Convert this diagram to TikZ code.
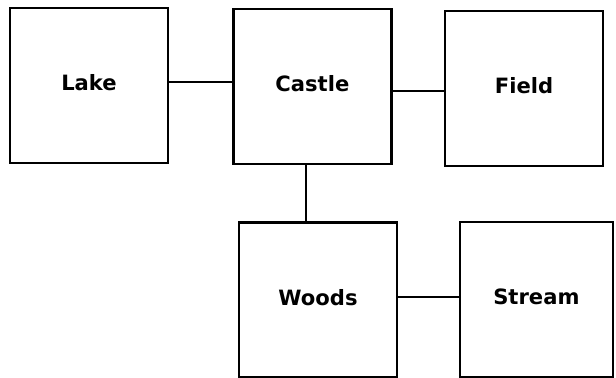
\documentclass[tikz,border=0pt]{standalone}
\usepackage{fontspec}
\setmainfont{DejaVu Sans}
\usepackage{tikz}

\begin{document}
\begin{tikzpicture}[every node/.style={font=\fontsize{15}{18}\selectfont\bfseries}, place/.style={draw, line width=1.6pt, minimum width=3.95cm, minimum height=3.87cm, text depth=4pt}, link/.style={line width=1.6pt}]
	\useasboundingbox (0,0) rectangle (15.4,9.45);
	\node[place] (lake) at (2.225,7.306) {Lake};
	\node[place] (castle) at (7.81,7.29) {Castle};
	\node[place] (field) at (13.1,7.24) {Field};
	\node[place] (woods) at (7.95,1.95) {Woods};
	\node[place, minimum width=3.82cm] (stream) at (13.41,1.96) {Stream};
	\draw[link] ([yshift=1mm]lake.east) -- ([yshift=1mm]lake.east -| castle.west);
	\draw[link] ([yshift=-1.1mm]castle.east) -- ([yshift=-1.1mm]castle.east -| field.west);
	\draw[link] ([xshift=-1.6mm]castle.south) -- ([xshift=-1.6mm]castle.south |- woods.north);
	\draw[link] ([yshift=0.8mm]woods.east) -- ([yshift=0.8mm]woods.east -| stream.west);
\end{tikzpicture}
\end{document}
